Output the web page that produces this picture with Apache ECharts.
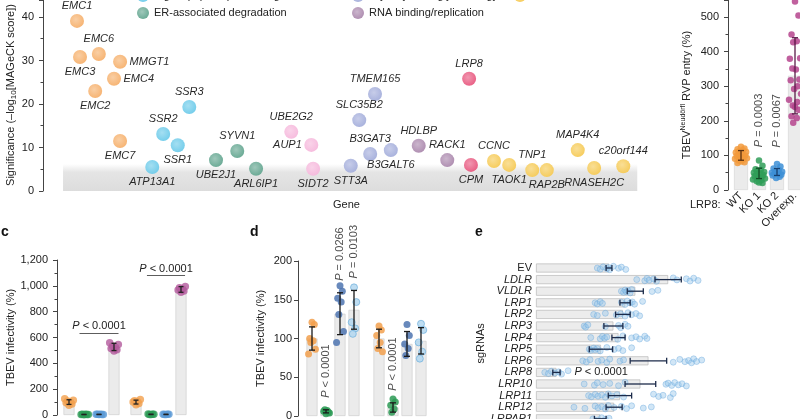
<!DOCTYPE html>
<html><head><meta charset="utf-8">
<script src="https://cdn.jsdelivr.net/npm/echarts/dist/echarts.min.js"></script>
<style>html,body{margin:0;padding:0;background:#fff}#c{width:800px;height:419px}</style>
</head><body><div id="c"></div>
<script>
// ---------- DATA ----------
// Panel a: CRISPR screen hits
const categoryNames = ['EMC complex','Ubiquitination','Receptor','Signal peptide processing','Glycosylation/glycobiology','Other','ER-associated degradation','RNA binding/replication'];
const genes      = ['EMC1','EMC6','EMC3','MMGT1','EMC4','EMC2','EMC7','SSR3','SSR2','SSR1','ATP13A1','UBE2J1','SYVN1','ARL6IP1','UBE2G2','AUP1','SIDT2','TMEM165','SLC35B2','B3GAT3','B3GALT6','STT3A','HDLBP','RACK1','LRP8','CPM','CCNC','TAOK1','TNP1','RAP2B','MAP4K4','RNASEH2C','c20orf144'];
const geneRank   = [5.6,9.2,6.1,12.7,11.7,8.6,12.7,24.1,19.8,22.2,18.0,28.5,32.0,35.1,40.9,44.2,44.5,54.7,52.1,53.9,57.3,50.7,61.9,66.6,70.2,70.5,74.3,76.8,80.6,83.0,88.1,90.8,95.6];
const geneScore  = [39.1,31.5,30.8,29.7,25.8,23.0,11.5,19.3,13.1,10.5,5.5,7.1,9.2,5.1,13.6,10.6,5.1,22.3,16.3,8.5,9.4,5.8,10.4,7.1,25.8,6.0,6.9,6.0,4.8,4.8,9.4,5.3,5.7];
const geneCat    = [0,0,0,0,0,0,0,3,3,3,3,6,6,6,1,1,1,4,4,4,4,4,7,7,2,2,5,5,5,5,5,5,5];

// Panel b: RVP entry
const bCats = ['WT','KO 1','KO 2','Overexp.'];
const bMean = [100,48,52,330];
const bErr  = [14,15,10,110];
const bDots = [
  [125,120,118,115,112,110,108,105,103,100,98,96,95,92,90,88,85,82,80,78],
  [85,70,60,58,55,52,50,48,45,43,40,38,35,33,30,28,25,22,20],
  [75,68,62,58,55,53,50,48,46,44,42,38,35],
  [545,504,449,430,427,381,379,348,351,319,317,300,292,278,261,254,244,240,232,213,208,194]
];
const bPvals = [null,'= 0.0003','= 0.0067',null];

// Panel c: TBEV infectivity (two groups)
const cCats = ['WT','KO 1','KO 2','Overexp.'];
const cMean1 = [100,4,4.5,527], cErr1 = [18,1.5,1.5,28];
const cDots1 = [[75,85,95,100,108,115,125],[2,3,4,5,6,4],[3,4,5,6,5,4],[495,505,515,525,535,545,560]];
const cMean2 = [100,5,4.6,972], cErr2 = [15,1.5,1.5,22];
const cDots2 = [[80,90,100,105,110,120],[3,5,7,6,4],[4,5,6,5,3],[950,960,968,975,985,995]];
const cBrackets1 = [{from:0.7,to:3.3,y:636,text:'< 0.0001'}];
const cBrackets2 = [{from:0.73,to:3.27,y:1084,text:'< 0.0001'}];

// Panel d
const dCats = ['WT','KO','KO + LRP8','KO + LRP8 (2)'];
const dMean1 = [100,6,132,137], dErr1 = [15,2,27,25];
const dDots1 = [[121,118,100,97,95,86,80],[3,5,6,7,8,4],[168,161,152,147,131,109,95],[166,147,121,113,106]];
const dP1 = [null,'< 0.0001','= 0.0266','= 0.0103'];
const dMean2 = [100,11,93,97], dErr2 = [12,6,16,17];
const dDots2 = [[116,111,104,95,87,83],[22,18,14,9,5],[118,104,93,87,78],[119,111,95,83,74]];
const dP2 = [null,'< 0.0001',null,null];

// Panel e: sgRNAs
const eCats = ['EV','LDLR','VLDLR','LRP1','LRP2','LRP3','LRP4','LRP5','LRP6','LRP8','LRP10','LRP11','LRP12','LRPAP1'];
const eMean = [100,181,136,122,119,106,113,89,154,28,143,115,107,88];
const eErr  = [4,18,11,7,10,13,9,16,25,5,21,16,11,8];
const eDots = [
  [84,88,92,97,99,101,106,113,117,123],
  [138,149,152,155,161,165,188,193,206,211,216,222],
  [117,120,122,124,126,129,131,159,167],
  [81,84,88,91,117,122,125,129,132,135,146],
  [79,84,95,110,116,122,126,131,137,142],
  [66,68,71,95,113,116,122,126],
  [75,88,91,94,97,112,119,131,137,142,149,152],
  [73,75,79,81,84,88,97,107,113,119,131],
  [64,69,74,85,90,97,101,115,120,188,197,204,209,213,216,220,227],
  [12,17,21,26,31,35,44],
  [66,80,84,92,101,113,122,178,181,186,190,195,200,206],
  [72,76,81,85,90,95,99,104,111,120,161,168,174,184,188],
  [52,67,81,85,90,95,99,107,117,124,131,147,158],
  [78,85,90,95,100]
];
const eP = {LRP8:'< 0.0001'};

// ---------- STYLE ----------
const FONT = '"Liberation Sans", Arial, sans-serif';
const TXT = '#222';
const catColors = ['#f6b06c','#f6b8dc','#e8587f','#6dcbea','#a4aedb','#f6ca55','#63a690','#ab88ad'];
const legendPos = [[137,-27],[352,-27],[514,-27],[137,-10],[352,-10],[514,-10],[137,7],[352,7]];
const labelSide = {EMC1:'top',EMC6:'top',EMC3:'bottom',MMGT1:'right',EMC4:'right',EMC2:'bottom',EMC7:'bottom',SSR3:'top',SSR2:'top',SSR1:'bottom',ATP13A1:'bottom',UBE2J1:'bottom',SYVN1:'top',ARL6IP1:'bottom',UBE2G2:'top',AUP1:'left',SIDT2:'bottom',TMEM165:'top',SLC35B2:'top',B3GAT3:'top',B3GALT6:'bottom',STT3A:'bottom',HDLBP:'top',RACK1:'top',LRP8:'top',CPM:'bottom',CCNC:'top',TAOK1:'bottom',TNP1:'top',RAP2B:'bottom',MAP4K4:'top',RNASEH2C:'bottom',c20orf144:'top'};
const JIT = [0,0.55,-0.55,0.28,-0.28,0.82,-0.82,0.14,-0.42,0.68,-0.68,0.42,-0.14,0.95,-0.95,0.35,-0.35];
const bColors = ['#f29a3c','#2f9e58','#3d8fd6','#b5448d'];
const bErrColors = ['#5a3010','#134a26','#163f6e','#5c1c4a'];
const cColors = ['#f2a04e','#2c9a55','#5b9ad6','#b35a9c'];
const dColors = ['#f2a04e','#2c9a55','#4e74b0','#b3d7f0'];
const dBorders = [null,null,null,'#6aaedc'];
const rich = {i:{fontStyle:'italic',fontSize:11,fontFamily:FONT,color:TXT}};

function lighten(hex,t){const n=parseInt(hex.slice(1),16);let r=n>>16,g=(n>>8)&255,b=n&255;
  r=Math.round(r+(255-r)*t);g=Math.round(g+(255-g)*t);b=Math.round(b+(255-b)*t);return `rgb(${r},${g},${b})`;}
function ball(c){return {type:'radial',x:0.42,y:0.4,r:0.62,colorStops:[{offset:0,color:lighten(c,0.35)},{offset:1,color:c}]};}

const axisLine = {show:true,onZero:false,lineStyle:{color:'#444',width:1}};
const axisTick = {show:true,length:4,lineStyle:{color:'#444'}};
const minorTick = {show:true,splitNumber:2,length:2.5,lineStyle:{color:'#444'}};
const lbl = {fontSize:11,color:TXT,fontFamily:FONT,margin:9,showMaxLabel:false};

// ---------- SERIES BUILDERS ----------
function barSeries(x,y,means,style,extra){
  return Object.assign({type:'bar',xAxisIndex:x,yAxisIndex:y,data:means,barWidth:11,z:1,silent:true,
    itemStyle:Object.assign({color:'#ebebeb',borderColor:'#cfcfcf',borderWidth:0.7},style||{})},extra||{});
}
function dotSeries(x,y,groups,amp,colors,size,borders,opacity){
  const data=[];
  groups.forEach((vals,g)=>vals.forEach((v,k)=>{
    data.push({value:[g+JIT[k%JIT.length]*amp,v],itemStyle:{color:colors[g],borderColor:borders&&borders[g]?borders[g]:null,borderWidth:borders&&borders[g]?0.8:0}});
  }));
  return {type:'scatter',xAxisIndex:x,yAxisIndex:y,data,symbolSize:size,z:3,silent:true,itemStyle:{opacity:opacity||0.85}};
}
function vErr(x,y,means,errs,colors,cap){
  return {type:'custom',xAxisIndex:x,yAxisIndex:y,z:5,silent:true,encode:{x:0,y:[1,2]},
    data:means.map((m,i)=>[i,m-errs[i],m+errs[i]]),
    renderItem:(p,api)=>{const xi=api.value(0),lo=api.coord([xi,api.value(1)]),hi=api.coord([xi,api.value(2)]);
      const s={stroke:Array.isArray(colors)?colors[p.dataIndex]:colors,lineWidth:1.3};
      return {type:'group',children:[
        {type:'line',shape:{x1:lo[0],y1:lo[1],x2:hi[0],y2:hi[1]},style:s},
        {type:'line',shape:{x1:lo[0]-cap,y1:lo[1],x2:lo[0]+cap,y2:lo[1]},style:s},
        {type:'line',shape:{x1:hi[0]-cap,y1:hi[1],x2:hi[0]+cap,y2:hi[1]},style:s}]};}};
}
function pLabels(x,y,means,errs,pv,dist){
  const data=[];pv.forEach((t,i)=>{if(t)data.push([i,means[i]+errs[i],t]);});
  return {type:'scatter',xAxisIndex:x,yAxisIndex:y,symbolSize:0,z:6,silent:true,data,
    label:{show:true,position:'top',rotate:90,align:'left',verticalAlign:'middle',distance:dist,
      fontSize:11,fontFamily:FONT,color:TXT,rich,formatter:p=>'{i|P} '+p.data[2]}};
}
function bracket(series,list){
  series.markLine={symbol:'none',silent:true,animation:false,lineStyle:{color:'#333',width:0.8,type:'solid'},
    label:{show:true,position:'middle',distance:1,fontSize:11,fontFamily:FONT,color:TXT,rich,formatter:p=>'{i|P} '+p.data.t},
    data:list.map(b=>[{coord:[b.from,b.y],t:b.text},{coord:[b.to,b.y]}])};
  return series;
}

// ---------- PANEL A ----------
const series=[];
series.push({type:'scatter',xAxisIndex:0,yAxisIndex:0,data:[],z:0,silent:true,
  markArea:{silent:true,itemStyle:{color:{type:'linear',x:0,y:0,x2:0,y2:1,colorStops:[
    {offset:0,color:'rgba(228,228,228,0)'},{offset:0.3,color:'rgba(226,226,226,0.9)'},{offset:1,color:'#dcdcdc'}]}},
    data:[[{xAxis:3.3,yAxis:0},{xAxis:97.9,yAxis:6.2}]]}});
categoryNames.forEach((name,ci)=>{
  const data=[];
  genes.forEach((g,i)=>{if(geneCat[i]===ci)data.push({name:g,value:[geneRank[i],geneScore[i]],label:{position:labelSide[g]}});});
  series.push({type:'scatter',name,xAxisIndex:0,yAxisIndex:0,symbolSize:14,z:3,data,
    itemStyle:{color:ball(catColors[ci]),opacity:0.95},
    label:{show:true,formatter:'{b}',fontStyle:'italic',fontSize:11,fontFamily:FONT,color:'#1a1a1a',distance:2.5}});
});

// ---------- PANEL B ----------
series.push(barSeries(1,1,bMean,{borderColor:'#d6d6d6'},{barWidth:14}));
series.push(dotSeries(2,1,bDots,0.35,bColors,6.5,null,0.85));
series.push(vErr(2,1,bMean,bErr,bErrColors,3));
series.push(pLabels(2,1,bMean,bErr,bPvals,21));

// ---------- PANEL C ----------
series.push(barSeries(3,2,cMean1));
series.push(bracket(dotSeries(4,2,cDots1,0.35,cColors,7.5,null,0.8),cBrackets1));
series.push(vErr(4,2,cMean1,cErr1,'#222',2.5));
series.push(barSeries(5,3,cMean2));
series.push(bracket(dotSeries(6,3,cDots2,0.35,cColors,7.5,null,0.8),cBrackets2));
series.push(vErr(6,3,cMean2,cErr2,'#222',2.5));

// ---------- PANEL D ----------
series.push(barSeries(7,4,dMean1));
series.push(dotSeries(8,4,dDots1,0.3,dColors,7,dBorders,0.85));
series.push(vErr(8,4,dMean1,dErr1,'#1a1a1a',3));
series.push(pLabels(8,4,dMean1,dErr1,dP1,12));
series.push(barSeries(9,5,dMean2));
series.push(dotSeries(10,5,dDots2,0.3,dColors,7,dBorders,0.85));
series.push(vErr(10,5,dMean2,dErr2,'#1a1a1a',3));
series.push(pLabels(10,5,dMean2,dErr2,dP2,12));

// ---------- PANEL E ----------
series.push({type:'bar',xAxisIndex:11,yAxisIndex:6,barWidth:9,z:1,silent:true,
  itemStyle:{color:'#ececec',borderColor:'#b8b8b8',borderWidth:0.7},
  data:eMean.map((m,i)=>eP[eCats[i]]?{value:m,label:{show:true,position:'right',distance:18,fontSize:11,fontFamily:FONT,color:TXT,rich,formatter:'{i|P} '+eP[eCats[i]]}}:m)});
(function(){const data=[];eDots.forEach((vals,r)=>vals.forEach((v,k)=>data.push([v,r+JIT[k%JIT.length]*0.18])));
  series.push({type:'scatter',xAxisIndex:11,yAxisIndex:7,data,symbolSize:6,z:3,silent:true,
    itemStyle:{color:'rgba(150,198,234,0.55)',borderColor:'rgba(100,165,220,0.7)',borderWidth:0.7}});})();
series.push({type:'custom',xAxisIndex:11,yAxisIndex:6,z:5,silent:true,encode:{x:[1,2],y:0},
  data:eMean.map((m,i)=>[i,m-eErr[i],m+eErr[i]]),
  renderItem:(p,api)=>{const r=api.value(0),lo=api.coord([api.value(1),r]),hi=api.coord([api.value(2),r]);
    const s={stroke:'#1c2b4a',lineWidth:1.3},c=3;
    return {type:'group',children:[
      {type:'line',shape:{x1:lo[0],y1:lo[1],x2:hi[0],y2:hi[1]},style:s},
      {type:'line',shape:{x1:lo[0],y1:lo[1]-c,x2:lo[0],y2:lo[1]+c},style:s},
      {type:'line',shape:{x1:hi[0],y1:hi[1]-c,x2:hi[0],y2:hi[1]+c},style:s}]};}});

// ---------- OPTION ----------
const hiddenCat = d=>({type:'category',data:d,show:false});
const hiddenVal = (g)=>({gridIndex:g,type:'value',min:-0.5,max:3.5,show:false});
const G = o=>Object.assign({outerBoundsMode:'none',containLabel:false},o);
const option={
  animation:false,backgroundColor:'#fff',
  textStyle:{fontFamily:FONT},
  legend:categoryNames.map((n,i)=>({data:[n],left:legendPos[i][0],top:legendPos[i][1],padding:0,
    icon:'circle',itemWidth:12,itemHeight:12,selectedMode:false,textStyle:{fontSize:11,color:TXT,fontFamily:FONT}})),
  grid:[
    G({left:43,width:607,top:0,height:191}),
    G({left:732,width:72,top:0,height:190}),
    G({left:61.5,width:60,top:260,height:155}),
    G({left:128.5,width:60,top:260,height:155}),
    G({left:305,width:56,top:261,height:155}),
    G({left:372,width:56,top:261,height:155}),
    G({left:536,width:182.5,top:262.2,height:162.4})
  ],
  xAxis:[
    {gridIndex:0,type:'value',min:0,max:100,axisLine:{show:false},axisTick:{show:false},axisLabel:{show:false},splitLine:{show:false},
      name:'Gene',nameLocation:'middle',nameGap:8,nameTextStyle:{fontSize:11,color:TXT,fontFamily:FONT}},
    {gridIndex:1,type:'category',data:bCats,axisLine:{show:false},axisTick:{show:false},axisLabel:{rotate:45,fontSize:11,color:TXT,fontFamily:FONT,margin:4,interval:0}},
    hiddenVal(1),
    Object.assign({gridIndex:2},hiddenCat(cCats)),hiddenVal(2),
    Object.assign({gridIndex:3},hiddenCat(cCats)),hiddenVal(3),
    Object.assign({gridIndex:4},hiddenCat(dCats)),hiddenVal(4),
    Object.assign({gridIndex:5},hiddenCat(dCats)),hiddenVal(5),
    {gridIndex:6,type:'value',min:0,max:250,show:false}
  ],
  yAxis:[
    {gridIndex:0,type:'value',min:0,max:43.9,interval:10,axisLine,axisTick,minorTick,splitLine:{show:false},axisLabel:lbl},
    {gridIndex:1,type:'value',min:0,max:549,interval:100,offset:4,axisLine,axisTick,minorTick,splitLine:{show:false},axisLabel:lbl,
      name:'TBEV{sup|Neudörfl} RVP entry (%)',nameLocation:'middle',nameGap:34,
      nameTextStyle:{fontSize:11,color:TXT,fontFamily:FONT,lineHeight:14,rich:{sup:{fontSize:7,fontFamily:FONT,color:TXT,verticalAlign:'top',lineHeight:9}}}},
    {gridIndex:2,type:'value',min:0,max:1200,interval:200,offset:4.5,axisLine,axisTick,minorTick,splitLine:{show:false},
      axisLabel:Object.assign({},lbl,{showMaxLabel:true,formatter:v=>v.toLocaleString('en-US')}),
      name:'TBEV infectivity (%)',nameLocation:'middle',nameGap:39,nameTextStyle:{fontSize:11,color:TXT,fontFamily:FONT}},
    {gridIndex:3,type:'value',min:0,max:1200,show:false},
    {gridIndex:4,type:'value',min:0,max:200,interval:50,offset:7,axisLine,axisTick,splitLine:{show:false},axisLabel:Object.assign({},lbl,{margin:6,showMaxLabel:true}),
      name:'TBEV infectivity (%)',nameLocation:'middle',nameGap:32,nameTextStyle:{fontSize:11,color:TXT,fontFamily:FONT}},
    {gridIndex:5,type:'value',min:0,max:200,show:false},
    {gridIndex:6,type:'category',data:eCats,inverse:true,axisLine:{show:false},axisTick:{show:false},
      axisLabel:{fontSize:11,color:TXT,fontFamily:FONT,margin:4,interval:0,formatter:v=>v==='EV'?v:'{i|'+v+'}',rich},
      name:'sgRNAs',nameLocation:'middle',nameGap:47,nameTextStyle:{fontSize:11,color:TXT,fontFamily:FONT}},
    {gridIndex:6,type:'value',min:-0.5,max:13.5,inverse:true,show:false}
  ],
  graphic:[
    {type:'text',x:11,y:95,rotation:Math.PI/2,silent:true,
      style:{text:'Significance (–log{s|10}[MAGeCK score])',fill:TXT,font:'11px '+FONT,align:'center',verticalAlign:'middle',
        textAlign:'center',textVerticalAlign:'middle',lineHeight:14,rich:{s:{fontSize:8,fontFamily:FONT,fill:TXT,verticalAlign:'bottom',lineHeight:10}}}},
    {type:'text',left:690,top:199,silent:true,style:{text:'LRP8:',fill:TXT,font:'11px '+FONT}},
    {type:'text',left:1,top:225,silent:true,style:{text:'c',fill:'#111',font:'bold 14px '+FONT}},
    {type:'text',left:250,top:225,silent:true,style:{text:'d',fill:'#111',font:'bold 14px '+FONT}},
    {type:'text',left:475,top:225,silent:true,style:{text:'e',fill:'#111',font:'bold 14px '+FONT}}
  ],
  series
};
const chart=echarts.init(document.getElementById('c'),null,{renderer:'canvas'});
chart.setOption(option);
</script></body></html>
